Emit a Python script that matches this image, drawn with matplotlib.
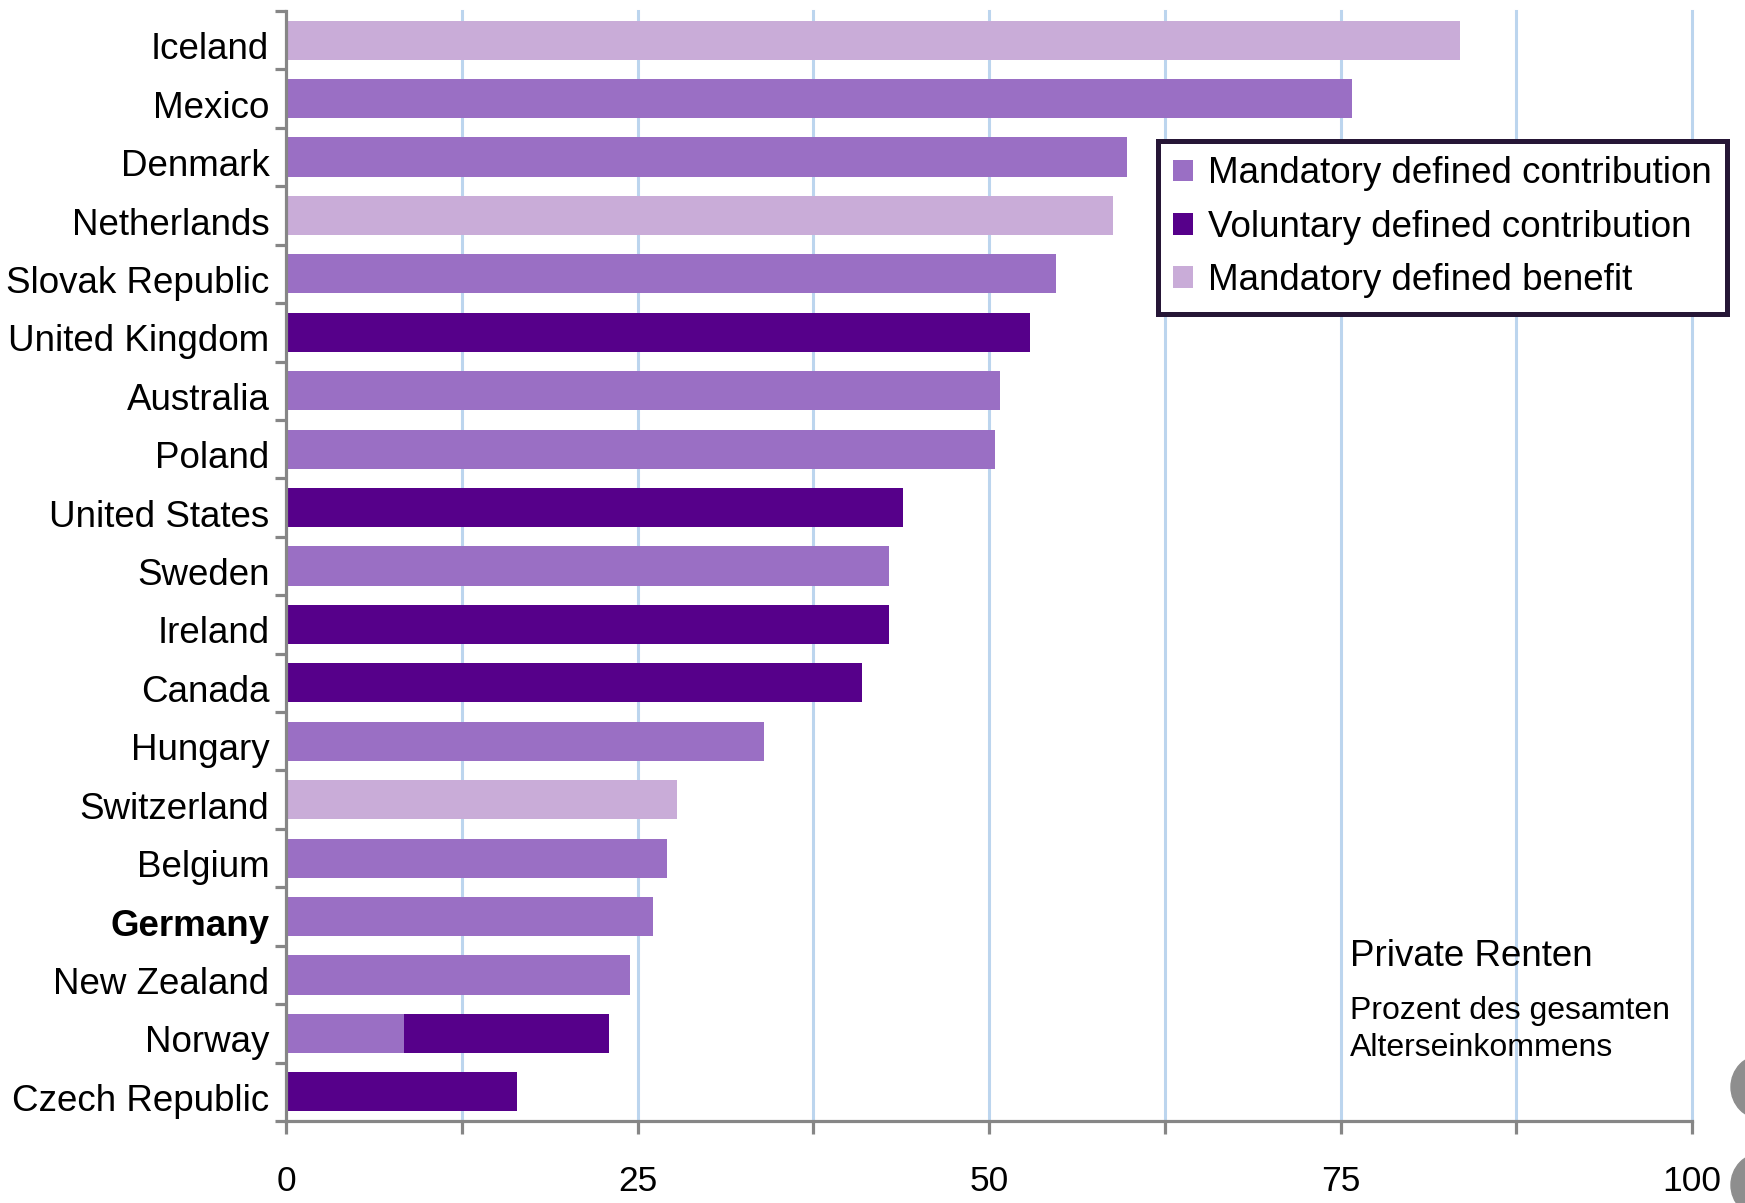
import numpy as np
import matplotlib
matplotlib.use("Agg")
import matplotlib.pyplot as plt
from matplotlib.patches import Patch, Ellipse
from matplotlib.transforms import ScaledTranslation

plt.rcParams['font.family'] = ['Liberation Sans', 'DejaVu Sans']

# Data: share of private pensions in total retirement income (%)
countries = ["Iceland", "Mexico", "Denmark", "Netherlands", "Slovak Republic",
             "United Kingdom", "Australia", "Poland", "United States", "Sweden",
             "Ireland", "Canada", "Hungary", "Switzerland", "Belgium", "Germany",
             "New Zealand", "Norway", "Czech Republic"]
mandatory_dc = [0, 75.8, 59.8, 0, 54.8, 0, 50.8, 50.4, 0, 42.9,
                0, 0, 34.0, 0, 27.1, 26.1, 24.5, 8.4, 0]
voluntary_dc = [0, 0, 0, 0, 0, 52.9, 0, 0, 43.9, 0,
                42.9, 41.0, 0, 0, 0, 0, 0, 14.6, 16.4]
mandatory_db = [83.5, 0, 0, 58.8, 0, 0, 0, 0, 0, 0,
                0, 0, 0, 27.8, 0, 0, 0, 0, 0]
legend_labels = ["Mandatory defined contribution", "Voluntary defined contribution",
                 "Mandatory defined benefit"]
x_ticks = [0, 12.5, 25, 37.5, 50, 62.5, 75, 87.5, 100]
x_ticklabels = ["0", "", "25", "", "50", "", "75", "", "100"]

c_mdc = "#9a6fc4"
c_vdc = "#56008a"
c_mdb = "#c9acd8"
axis_gray = "#868686"
grid_blue = "#bcd5ee"

W, H = 1745, 1203
fig = plt.figure(figsize=(W / 100, H / 100), dpi=100)
ax = fig.add_axes([286 / W, 1 - 1121 / H, (1692 - 286) / W, (1121 - 11) / H])

y = np.arange(len(countries))
bh = 0.67
mdc = np.array(mandatory_dc)
vdc = np.array(voluntary_dc)
mdb = np.array(mandatory_db)
ax.barh(y, mdc, height=bh, color=c_mdc, zorder=3)
ax.barh(y, vdc, left=mdc, height=bh, color=c_vdc, zorder=3)
ax.barh(y, mdb, left=mdc + vdc, height=bh, color=c_mdb, zorder=3)

# vertical grid lines
for gx in x_ticks[1:]:
    ax.axvline(gx, color=grid_blue, lw=2.2, zorder=1, clip_on=False)

ax.set_xlim(0, 100)
ax.set_ylim(len(countries) - 0.5, -0.5)

for s in ["top", "right"]:
    ax.spines[s].set_visible(False)
for s in ["left", "bottom"]:
    ax.spines[s].set_color(axis_gray)
    ax.spines[s].set_linewidth(2.3)
    ax.spines[s].set_zorder(4)

ax.set_xticks(x_ticks)
ax.set_xticklabels(x_ticklabels)
ax.tick_params(axis="x", length=9, width=2.3, color=axis_gray, pad=23,
               labelsize=25.5, direction="out")

ax.set_yticks(y)
ax.set_yticklabels(countries)
ax.set_yticks(np.arange(-0.5, len(countries) + 0.5, 1), minor=True)
ax.tick_params(axis="y", which="major", length=0, pad=12, labelsize=26.5)
ax.tick_params(axis="y", which="minor", length=8, width=2.3, color=axis_gray,
               direction="out")
shift = ScaledTranslation(0, -4 / 72, fig.dpi_scale_trans)
for lab in ax.get_yticklabels():
    lab.set_transform(lab.get_transform() + shift)
    if lab.get_text() == "Germany":
        lab.set_fontweight("bold")

handles = [Patch(facecolor=c, edgecolor="none") for c in (c_mdc, c_vdc, c_mdb)]
leg = fig.legend(handles, legend_labels, loc="upper left",
                 bbox_to_anchor=(1158 / W, 1 - 141 / H), fontsize=26.5,
                 frameon=True, fancybox=False, framealpha=1,
                 handlelength=0.52, handleheight=0.52, handletextpad=0.42,
                 labelspacing=0.5, borderpad=0.42, borderaxespad=0)
leg.get_frame().set_edgecolor("#261636")
leg.get_frame().set_linewidth(3.6)

fig.text(1350 / W, 1 - 957 / H, "Private Renten", fontsize=26.5,
         ha="left", va="center")
fig.text(1350 / W, 1 - 1011 / H, "Prozent des gesamten", fontsize=23,
         ha="left", va="center")
fig.text(1350 / W, 1 - 1048 / H, "Alterseinkommens", fontsize=23,
         ha="left", va="center")

# cut-off grey shapes at the right edge
for cy in (1087, 1185):
    fig.patches.append(Ellipse((1762 / W, 1 - cy / H), 62 / W, 64 / H,
                               transform=fig.transFigure, color="#8e8e8e",
                               zorder=0))

fig.savefig("out.png", dpi=100)
